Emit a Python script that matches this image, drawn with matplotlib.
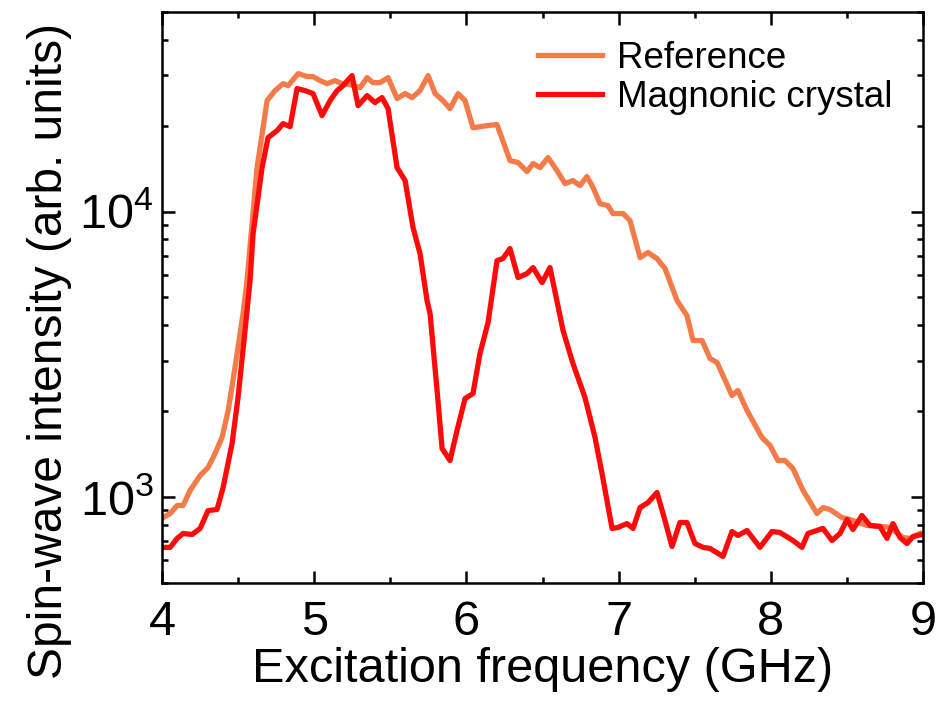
import matplotlib
matplotlib.use("Agg")
import matplotlib.pyplot as plt
from matplotlib.ticker import LogLocator, MultipleLocator, NullFormatter

plt.rcParams['font.family'] = ['Liberation Sans', 'DejaVu Sans']
plt.rcParams['mathtext.fontset'] = 'custom'
plt.rcParams['mathtext.rm'] = 'Liberation Sans'
plt.rcParams['mathtext.it'] = 'Liberation Sans'

# Reference film
ref_freq = [4.007, 4.053, 4.099, 4.138, 4.184, 4.250, 4.302, 4.348, 4.394, 4.434,
            4.466, 4.499, 4.532, 4.558, 4.624, 4.690, 4.742, 4.795, 4.828, 4.894,
            4.953, 4.992, 5.038, 5.084, 5.137, 5.183, 5.235, 5.301, 5.347, 5.386,
            5.432, 5.485, 5.544, 5.597, 5.643, 5.695, 5.748, 5.794, 5.846, 5.892,
            5.945, 5.991, 6.043, 6.135, 6.201, 6.286, 6.339, 6.398, 6.438, 6.484,
            6.536, 6.595, 6.648, 6.700, 6.746, 6.792, 6.832, 6.878, 6.930, 6.963,
            7.029, 7.075, 7.141, 7.193, 7.252, 7.305, 7.384, 7.449, 7.489, 7.548,
            7.601, 7.647, 7.745, 7.784, 7.844, 7.942, 7.995, 8.047, 8.093, 8.146,
            8.212, 8.304, 8.343, 8.389, 8.468, 8.520, 8.632, 8.737, 8.783, 8.869,
            8.915, 8.980]
ref_int = [847, 875, 934, 934, 1054, 1190, 1268, 1420, 1616, 2009,
           2559, 3340, 4393, 5732, 14260, 24480, 26530, 28070, 27620, 30430,
           29710, 29710, 28760, 28070, 28760, 28070, 27840, 27180, 29470, 28300,
           28300, 29470, 24880, 25900, 25080, 26530, 29950, 25900, 24480, 22950,
           25900, 24480, 19660, 20000, 20170, 15090, 14850, 13810, 14730, 14260,
           15460, 13920, 12530, 12840, 12330, 13270, 12140, 10660, 10490, 9840,
           9840, 9300, 6900, 7187, 6844, 6315, 4880, 4322, 3533, 3533,
           3055, 2959, 2267, 2361, 2009, 1616, 1515, 1342, 1342, 1258,
           1054, 875, 918, 904, 847, 834, 795, 788, 782, 721,
           716, 745]

# Magnonic crystal
mc_freq = [4.007, 4.053, 4.099, 4.138, 4.197, 4.250, 4.302, 4.361, 4.401, 4.460,
           4.499, 4.545, 4.578, 4.598, 4.657, 4.696, 4.756, 4.795, 4.841, 4.887,
           4.940, 4.992, 5.051, 5.104, 5.150, 5.189, 5.248, 5.288, 5.347, 5.399,
           5.445, 5.485, 5.544, 5.597, 5.649, 5.695, 5.741, 5.761, 5.807, 5.840,
           5.892, 5.938, 5.991, 6.043, 6.089, 6.142, 6.201, 6.240, 6.286, 6.339,
           6.398, 6.438, 6.497, 6.549, 6.635, 6.700, 6.779, 6.845, 6.891, 6.957,
           6.996, 7.055, 7.095, 7.141, 7.193, 7.252, 7.292, 7.351, 7.403, 7.449,
           7.502, 7.555, 7.601, 7.686, 7.745, 7.784, 7.844, 7.929, 8.008, 8.060,
           8.146, 8.205, 8.244, 8.343, 8.402, 8.455, 8.501, 8.540, 8.599, 8.652,
           8.717, 8.764, 8.803, 8.849, 8.895, 8.935, 8.993]
mc_int = [666, 666, 716, 745, 739, 776, 896, 904, 1080, 1540,
          2231, 3829, 5732, 8375, 14260, 18160, 19220, 20330, 19840, 26970,
          26530, 25900, 21690, 24480, 26530, 27620, 29950, 23510, 25490, 24090,
          25080, 22950, 14260, 12840, 8790, 7127, 4880, 4393, 2361, 1479,
          1342, 1710, 2213, 2304, 3182, 4084, 6734, 6844, 7420, 5873,
          6064, 6365, 5641, 6365, 3829, 2935, 2231, 1616, 1209, 776,
          782, 807, 776, 918, 956, 1037, 875, 671, 814, 814,
          687, 666, 660, 619, 757, 733, 763, 666, 757, 751,
          704, 666, 745, 776, 704, 745, 834, 769, 861, 795,
          788, 716, 807, 721, 687, 727, 739]

fig = plt.figure(figsize=(9.37, 7.10), dpi=100)
ax = fig.add_axes([0.173, 0.179, 0.812, 0.804])

ax.plot(ref_freq, ref_int, color='#F47A48', lw=3.8, label='Reference')
ax.plot(mc_freq, mc_int, color='#FF0A0A', lw=3.8, label='Magnonic crystal')

ax.set_yscale('log')
ax.set_xlim(4, 9)
ax.set_ylim(500, 50000)

ax.xaxis.set_major_locator(MultipleLocator(1))
ax.xaxis.set_minor_locator(MultipleLocator(0.5))
ax.yaxis.set_major_locator(LogLocator(base=10))
ax.yaxis.set_minor_locator(LogLocator(base=10, subs=range(2, 10)))
ax.yaxis.set_minor_formatter(NullFormatter())

ax.tick_params(which='both', direction='in', top=True, right=True, width=1.8, labelsize=35)
ax.tick_params(which='major', length=9)
ax.tick_params(which='minor', length=4.5)
ax.tick_params(axis='x', pad=12)
ax.tick_params(axis='y', pad=6)
for s in ax.spines.values():
    s.set_linewidth(1.8)

ax.set_xlabel('Excitation frequency (GHz)', fontsize=35, labelpad=2)
ax.set_ylabel('Spin-wave intensity (arb. units)', fontsize=34.5)
ax.yaxis.set_label_coords(-0.118, 0.406)

ax.legend(loc='upper left', bbox_to_anchor=(0.494, 0.950), frameon=False, fontsize=26.5,
          handlelength=1.74, handletextpad=0.42, labelspacing=0.12, borderpad=0,
          borderaxespad=0)

plt.savefig('out.png', dpi=100)
